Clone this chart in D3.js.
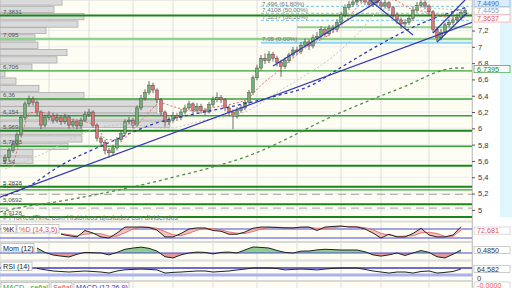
<!DOCTYPE html>
<html>
<head>
<meta charset="utf-8">
<script src="https://d3js.org/d3.v7.min.js"></script>
<style>
body { margin: 0; background: #fff; }
text { font-family: "Liberation Sans", Arial, sans-serif; }
</style>
</head>
<body>
<svg id="chart" width="512" height="288"></svg>
<script>
// daily candles (every other session)
var firstOpen = 5.60;
var closes = [5.64,5.73,5.80,5.92,6.13,6.30,6.36,6.32,6.20,6.04,
  6.13,6.16,6.10,6.13,6.08,6.14,6.04,6.08,6.03,6.10,
  6.17,6.20,6.04,5.88,5.83,5.73,5.70,5.76,5.86,5.94,
  6.08,6.10,6.04,6.25,6.37,6.44,6.53,6.47,6.35,6.20,
  6.08,6.10,6.16,6.13,6.20,6.25,6.30,6.22,6.27,6.22,
  6.20,6.29,6.35,6.38,6.35,6.25,6.20,6.15,6.22,6.25,
  6.32,6.44,6.62,6.74,6.86,6.83,6.91,6.86,6.81,6.76,
  6.83,6.90,6.96,6.94,7.02,7.06,7.01,7.11,7.13,7.21,
  7.16,7.23,7.21,7.30,7.39,7.48,7.52,7.55,7.57,7.60,
  7.55,7.52,7.57,7.54,7.50,7.54,7.48,7.39,7.33,7.28,
  7.30,7.35,7.45,7.51,7.54,7.50,7.43,7.21,7.11,7.18,
  7.27,7.30,7.33,7.36,7.42,7.449];
var highs = [5.68,5.76,5.84,5.95,6.16,6.33,6.40,6.39,6.34,6.22,
  6.17,6.21,6.19,6.18,6.16,6.18,6.16,6.12,6.11,6.13,
  6.21,6.24,6.22,6.06,5.91,5.86,5.76,5.80,5.89,5.98,
  6.11,6.14,6.13,6.28,6.41,6.48,6.58,6.56,6.49,6.37,
  6.22,6.14,6.20,6.19,6.24,6.29,6.34,6.32,6.31,6.30,
  6.25,6.32,6.39,6.44,6.41,6.37,6.28,6.23,6.26,6.29,
  6.35,6.47,6.65,6.78,6.90,6.92,6.95,6.94,6.89,6.84,
  6.87,6.93,7.00,7.00,7.06,7.10,7.09,7.15,7.18,7.25,
  7.24,7.27,7.27,7.34,7.43,7.52,7.56,7.60,7.62,7.64,
  7.63,7.58,7.61,7.60,7.57,7.58,7.56,7.50,7.42,7.36,
  7.34,7.39,7.49,7.55,7.58,7.57,7.52,7.45,7.24,7.22,
  7.30,7.34,7.37,7.40,7.46,7.48];
var lows = [5.57,5.61,5.70,5.78,5.90,6.10,6.27,6.28,6.16,5.99,
  6.01,6.10,6.06,6.07,6.04,6.05,6.00,6.01,5.99,6.00,
  6.08,6.14,6.01,5.84,5.78,5.68,5.64,5.66,5.73,5.83,
  5.92,6.05,6.00,6.02,6.22,6.34,6.41,6.43,6.31,6.16,
  6.02,6.04,6.07,6.09,6.10,6.17,6.22,6.18,6.19,6.18,
  6.16,6.18,6.26,6.32,6.31,6.21,6.15,5.99,6.12,6.19,
  6.22,6.29,6.41,6.59,6.71,6.79,6.80,6.82,6.76,6.63,
  6.73,6.80,6.87,6.90,6.91,6.99,6.96,6.98,7.08,7.10,
  7.12,7.13,7.17,7.18,7.27,7.36,7.45,7.49,7.51,7.54,
  7.51,7.48,7.49,7.50,7.46,7.47,7.44,7.35,7.28,7.22,
  7.24,7.27,7.32,7.42,7.48,7.46,7.38,7.17,7.06,7.08,
  7.15,7.24,7.27,7.30,7.33,7.39];

var monthStarts = [11, 21, 32, 42, 52, 63, 73, 84, 94, 106];
var priceTicks = [5, 5.2, 5.4, 5.6, 5.8, 6, 6.2, 6.4, 6.6, 6.8, 7, 7.2];

// support / resistance levels (strength 1 = zone, 2 = minor, 3 = major)
var levels = [7.3831, 7.095, 6.706, 6.36, 6.154, 5.969, 5.7803, 5.54, 5.2828, 5.2442, 5.0692, 4.9128];
var levelStrength = [3, 1, 2, 2, 2, 3, 2, 3, 3, 2, 3, 3];
var zoneLevel = 7.24, zoneStart = 73;
var grayLevels = [5.19, 5.02];

// Fibonacci retracement
var fibValues = [7.05, 7.3237, 7.4108, 7.496];
var fibPct = ["0,00%", "38,20%", "50,00%", "61,80%"];
var fibStart = 64;

// volume at price
var vpLow = [7.50,7.41,7.32,7.23,7.15,7.06,6.97,6.88,6.79,6.70,6.62,6.53,6.44,6.35,6.26,6.18,6.09,6.00,5.91,5.82,5.73,5.65,5.56];
var vpVol = [62,54,84,78,46,35,38,67,57,32,5,16,39,84,157,157,167,170,82,82,68,33,33];
var vpStep = 0.088;

// moving averages [candle, value]
var maRed = [[2,5.55],[4.25,5.92],[6.25,6.19],[8.75,6.20],[12.5,6.14],[17.5,6.10],[22.5,6.04],[25.5,5.86],[28.75,5.86],[32.5,6.01],[36.25,6.21],[38.75,6.31],[42.5,6.26],[47.5,6.21],[52.5,6.26],[56.75,6.30],[60.5,6.36],[64.25,6.54],[67.5,6.67],[71.25,6.83],[75.5,7.0],[80.5,7.13],[85,7.31],[88.75,7.52],[92.5,7.6],[97.5,7.57],[101.25,7.47],[105,7.43],[108.75,7.38],[112.5,7.35],[115,7.3637]];
var maGray = [[0,5.5],[10,5.7],[20,5.95],[30,6.05],[40,6.0],[50,6.1],[60,6.2],[68,6.44],[75,6.65],[82,6.88],[88,7.15],[94,7.45],[100,7.5],[108,7.47],[115,7.4455]];
var maBlue = [[0,5.17],[6.25,5.30],[13.75,5.54],[26.25,5.83],[38.75,6.08],[48.75,6.19],[58.75,6.29],[68.75,6.41],[76.25,6.52],[83.75,6.74],[93.75,7.03],[103.75,7.28],[115,7.48]];
var maGreen = [[-1.25,4.975],[3,5.02],[15.5,5.12],[41.25,5.39],[61.25,5.67],[83.75,6.19],[98.75,6.49],[113,6.74],[115,6.7395]];

// drawn trend lines
var trendLines = [
  [[-1.25,5.155],[116.75,7.30]],
  [[67,6.764],[93.75,7.574]],
  [[90.5,7.60],[102,7.145]],
  [[107,7.169],[115,7.574]],
  [[108,7.059],[115.5,7.415]]
];

// oscillators, one value every 2 candles
var stochStart = 14;
var stochK = [45,35,27,70,53,27,20,53,93,93,93,90,73,27,27,50,80,87,87,70,65,45,45,60,85,93,93,90,87,87,93,93,70,93,97,100,93,93,80,53,20,45,27,27,50,85,40,27,27,40,95];
var stochD = [50,42,35,45,50,48,33,32,55,80,93,92,85,63,42,35,52,72,85,82,74,60,52,50,63,80,90,92,90,88,89,91,85,85,87,96,97,95,89,75,51,40,31,33,35,54,58,50,31,31,72.681];
var oscStart = 8;
var momVals = [0.8,0.1,-0.32,-0.5,-0.65,-0.2,0.1,0.05,0,-0.3,0.1,0.6,0.8,0.95,0.75,0.3,-0.6,-0.8,-0.3,0,0.15,0.1,-0.15,0.1,0.15,0,0.5,0.97,0.9,0.8,0.4,0.1,0,0.3,0.32,0.5,0.6,0.55,0.48,0.48,0.48,0.2,-0.3,-0.5,-0.3,0,-0.4,0,0.4,0.1,-0.6,-0.8,-0.2,0.485];
var rsiVals = [68,60,53,50,47,50,53,50,47,41,53,60,62,64,62,59,41,45,47,50,53,53,47,50,53,59,64,70,70,70,67,59,62,64,62,59,64,68,70,70,70,62,53,47,41,47,47,41,50,53,41,45,50,64.582];

var svg = d3.select("#chart");
var plotRight = 472;
var comma = function(v) { return String(v).replace(".", ","); };
var locale = d3.formatLocale({decimal: ",", thousands: ".", grouping: [3], currency: ["", ""]});
var tickFmt = locale.format(".1~f");

var N = closes.length;
var x = d3.scaleLinear().domain([0, N - 1]).range([5, 465]);
var y = d3.scaleLinear().domain([4.9, 7.5742]).range([218, 0]);
var yStoch = d3.scaleLinear().domain([0, 100]).range([241, 226]);
var yMom = d3.scaleLinear().domain([-1, 1.6]).range([259.2, 243.08]);
var yRsi = d3.scaleLinear().domain([0, 100]).range([280.25, 262.75]);

var defs = svg.append("defs");
defs.append("clipPath").attr("id", "clipPrice").append("rect").attr("x", 0).attr("y", 0).attr("width", plotRight).attr("height", 221);
defs.append("clipPath").attr("id", "clipUp").append("rect").attr("x", 0).attr("y", 0).attr("width", plotRight).attr("height", yMom(0));
defs.append("clipPath").attr("id", "clipDown").append("rect").attr("x", 0).attr("y", yMom(0)).attr("width", plotRight).attr("height", 40);

// pane backgrounds
var panes = [[0, 221], [222, 241.5], [242.5, 260], [261, 280.5], [281.5, 290]];
svg.selectAll(".pane").data(panes).enter().append("rect")
  .attr("x", 0).attr("y", function(d) { return d[0]; })
  .attr("width", plotRight).attr("height", function(d) { return d[1] - d[0]; })
  .attr("fill", "#fdfdf4").attr("stroke", "#cfcfcf").attr("stroke-width", 0.8);

// grid
svg.selectAll(".hgrid").data(priceTicks).enter().append("line")
  .attr("x1", 0).attr("x2", plotRight)
  .attr("y1", function(d) { return y(d); }).attr("y2", function(d) { return y(d); })
  .attr("stroke", "#eeeeee").attr("stroke-width", 1);
svg.selectAll(".vgrid").data(monthStarts).enter().append("line")
  .attr("x1", function(d) { return x(d); }).attr("x2", function(d) { return x(d); })
  .attr("y1", 0).attr("y2", 288)
  .attr("stroke", "#dedede").attr("stroke-width", 1);

var price = svg.append("g").attr("clip-path", "url(#clipPrice)");

// volume profile
var vpX = d3.scaleLinear().domain([0, d3.max(vpVol)]).range([0, 170]);
price.selectAll(".vp").data(vpLow).enter().append("rect")
  .attr("x", 0)
  .attr("y", function(d) { return y(d + vpStep); })
  .attr("width", function(d, i) { return vpX(vpVol[i]); })
  .attr("height", function(d) { return y(d) - y(d + vpStep) - 0.9; })
  .attr("fill", "#dadada").attr("stroke", "#a3a3a3").attr("stroke-width", 0.7);

// gray dashed levels
price.selectAll(".glev").data(grayLevels).enter().append("line")
  .attr("x1", 0).attr("x2", plotRight)
  .attr("y1", function(d) { return y(d); }).attr("y2", function(d) { return y(d); })
  .attr("stroke", "#b4b4b4").attr("stroke-width", 1.2).attr("stroke-dasharray", "8,5");

// green levels
var levelColor = {1: "#8fd08f", 2: "#34a234", 3: "#1a861a"};
var levelWidth = {1: 2.4, 2: 1.3, 3: 2};
price.selectAll(".lev").data(levels).enter().append("line")
  .attr("x1", 0).attr("x2", plotRight)
  .attr("y1", function(d) { return y(d); }).attr("y2", function(d) { return y(d); })
  .attr("stroke", function(d, i) { return levelColor[levelStrength[i]]; })
  .attr("stroke-width", function(d, i) { return levelWidth[levelStrength[i]]; });
price.append("line")
  .attr("x1", x(zoneStart)).attr("x2", plotRight)
  .attr("y1", y(zoneLevel)).attr("y2", y(zoneLevel))
  .attr("stroke", levelColor[1]).attr("stroke-width", 2.2);

// fibonacci
price.selectAll(".fib").data(fibValues).enter().append("line")
  .attr("x1", x(fibStart)).attr("x2", plotRight)
  .attr("y1", function(d) { return y(d); }).attr("y2", function(d) { return y(d); })
  .attr("stroke", "#8ad4f6")
  .attr("stroke-width", function(d, i) { return i === 0 ? 2 : 1.2; })
  .attr("stroke-dasharray", function(d, i) { return i === 0 ? null : "3,2"; });
price.selectAll(".fibt").data(fibValues).enter().append("text")
  .attr("x", x(fibStart) + 1).attr("y", function(d) { return Math.max(y(d) - 1.5, 5.6); })
  .attr("font-size", 6.2).attr("fill", "#777")
  .text(function(d, i) { return comma(d) + " (" + fibPct[i] + ")"; });

// candles
var candles = closes.map(function(c, i) {
  return {i: i, o: i === 0 ? firstOpen : closes[i - 1], c: c, h: highs[i], l: lows[i]};
});
price.selectAll(".wick").data(candles).enter().append("line")
  .attr("x1", function(d) { return x(d.i); }).attr("x2", function(d) { return x(d.i); })
  .attr("y1", function(d) { return y(d.h); }).attr("y2", function(d) { return y(d.l); })
  .attr("stroke", "#4a4a4a").attr("stroke-width", 0.8);
price.selectAll(".body").data(candles).enter().append("rect")
  .attr("x", function(d) { return x(d.i) - 1.3; }).attr("width", 2.6)
  .attr("y", function(d) { return y(Math.max(d.o, d.c)); })
  .attr("height", function(d) { return Math.max(0.8, Math.abs(y(d.o) - y(d.c))); })
  .attr("fill", function(d) { return d.c >= d.o ? "#6db56d" : "#e07474"; })
  .attr("stroke", "#4a4a4a").attr("stroke-width", 0.5);

// moving averages
var maLine = d3.line().x(function(d) { return x(d[0]); }).y(function(d) { return y(d[1]); }).curve(d3.curveMonotoneX);
price.append("path").attr("d", maLine(maGreen)).attr("fill", "none")
  .attr("stroke", "#4e8f4e").attr("stroke-width", 1.3).attr("stroke-dasharray", "3,3");
price.append("path").attr("d", maLine(maBlue)).attr("fill", "none")
  .attr("stroke", "#3535b8").attr("stroke-width", 1.3).attr("stroke-dasharray", "3,3");
price.append("path").attr("d", maLine(maGray)).attr("fill", "none")
  .attr("stroke", "#c4c4c4").attr("stroke-width", 1).attr("stroke-dasharray", "2,2");
price.append("path").attr("d", maLine(maRed)).attr("fill", "none")
  .attr("stroke", "#e86a6a").attr("stroke-width", 1).attr("stroke-dasharray", "2,2");

// trend lines
price.selectAll(".trend").data(trendLines).enter().append("line")
  .attr("x1", function(d) { return x(d[0][0]); }).attr("y1", function(d) { return y(d[0][1]); })
  .attr("x2", function(d) { return x(d[1][0]); }).attr("y2", function(d) { return y(d[1][1]); })
  .attr("stroke", "#3434b4").attr("stroke-width", 1.2);

// level labels on the left
price.selectAll(".levt").data(levels).enter().append("text")
  .attr("x", 3).attr("y", function(d) { return y(d) - 2; })
  .attr("font-size", 6.2).attr("fill", "#555")
  .text(function(d) { return comma(d); });

price.append("text").attr("x", 2).attr("y", 220)
  .attr("font-size", 7).attr("fill", "#777")
  .text("© ProRealTime.com  Históricos ajustados con dividendos");

// stochastic
var stoch = stochK.map(function(k, j) { return {i: stochStart + 2 * j, k: k, d: stochD[j]}; });
svg.selectAll(".stl").data([80, 20]).enter().append("line")
  .attr("x1", 0).attr("x2", plotRight)
  .attr("y1", function(d) { return yStoch(d); }).attr("y2", function(d) { return yStoch(d); })
  .attr("stroke", "#4b4bd6").attr("stroke-width", 1.1);
svg.append("path").datum(stoch)
  .attr("d", d3.area().x(function(d) { return x(d.i); }).y0(function(d) { return yStoch(d.d); }).y1(function(d) { return yStoch(d.k); }))
  .attr("fill", "#f0a6a6").attr("opacity", 0.7);
svg.append("path").datum(stoch)
  .attr("d", d3.line().x(function(d) { return x(d.i); }).y(function(d) { return yStoch(d.d); }))
  .attr("fill", "none").attr("stroke", "#e06a6a").attr("stroke-width", 0.9);
svg.append("path").datum(stoch)
  .attr("d", d3.line().x(function(d) { return x(d.i); }).y(function(d) { return yStoch(d.k); }))
  .attr("fill", "none").attr("stroke", "#222").attr("stroke-width", 1);

// momentum
var mom = momVals.map(function(v, j) { return {i: oscStart + 2 * j, v: v}; });
var momArea = d3.area().x(function(d) { return x(d.i); }).y0(yMom(0)).y1(function(d) { return yMom(d.v); });
svg.append("path").datum(mom).attr("d", momArea).attr("fill", "#8fcc8f").attr("clip-path", "url(#clipUp)");
svg.append("path").datum(mom).attr("d", momArea).attr("fill", "#e49a9a").attr("clip-path", "url(#clipDown)");
svg.append("line").attr("x1", 0).attr("x2", plotRight).attr("y1", yMom(0)).attr("y2", yMom(0))
  .attr("stroke", "#4b4bd6").attr("stroke-width", 1.1);
svg.append("path").datum(mom)
  .attr("d", d3.line().x(function(d) { return x(d.i); }).y(function(d) { return yMom(d.v); }))
  .attr("fill", "none").attr("stroke", "#222").attr("stroke-width", 1);

// RSI
var rsi = rsiVals.map(function(v, j) { return {i: oscStart + 2 * j, v: v}; });
svg.append("line").attr("x1", 0).attr("x2", plotRight).attr("y1", yRsi(30)).attr("y2", yRsi(30))
  .attr("stroke", "#a9b2ee").attr("stroke-width", 3);
svg.append("line").attr("x1", 0).attr("x2", plotRight).attr("y1", yRsi(70)).attr("y2", yRsi(70))
  .attr("stroke", "#3c3cc8").attr("stroke-width", 1.3);
svg.append("path").datum(rsi)
  .attr("d", d3.line().x(function(d) { return x(d.i); }).y(function(d) { return yRsi(d.v); }))
  .attr("fill", "none").attr("stroke", "#222").attr("stroke-width", 1);

// pane title boxes
var titles = [
  {x: 1, y: 224.5, w: 15, t: "%K", c: "#222"},
  {x: 17, y: 224.5, w: 42, t: "%D (14,3,5)", c: "#e05050"},
  {x: 1, y: 243.5, w: 33, t: "Mom (12)", c: "#222"},
  {x: 1, y: 262, w: 31, t: "RSI (14)", c: "#222"},
  {x: 1, y: 282.5, w: 48, t: "MACD - señal", c: "#3a9a3a"},
  {x: 51, y: 282.5, w: 21, t: "Señal", c: "#e05050"},
  {x: 74, y: 282.5, w: 55, t: "MACD (12,26,9)", c: "#3434b4"}
];
var tg = svg.selectAll(".title").data(titles).enter().append("g");
tg.append("rect").attr("x", function(d) { return d.x; }).attr("y", function(d) { return d.y; })
  .attr("width", function(d) { return d.w; }).attr("height", 8.5)
  .attr("fill", "#fff").attr("stroke", "#b8b8b8").attr("stroke-width", 0.8);
tg.append("text").attr("x", function(d) { return d.x + 2; }).attr("y", function(d) { return d.y + 7; })
  .attr("font-size", 7.2).attr("fill", function(d) { return d.c; })
  .text(function(d) { return d.t; });

// right axis area
svg.append("rect").attr("x", plotRight).attr("y", 0).attr("width", 40).attr("height", 288).attr("fill", "#fff");
svg.append("rect").attr("x", 500).attr("y", 0).attr("width", 12).attr("height", 217).attr("fill", "#def6fc");
svg.append("line").attr("x1", plotRight + 0.5).attr("x2", plotRight + 0.5).attr("y1", 0).attr("y2", 288)
  .attr("stroke", "#c8c8c8");

var axis = svg.append("g").attr("transform", "translate(" + plotRight + ",0)")
  .call(d3.axisRight(y).tickValues(priceTicks).tickFormat(tickFmt).tickSize(3).tickPadding(3));
axis.select(".domain").remove();
axis.selectAll("line").attr("stroke", "#555");
axis.selectAll("text").attr("font-size", 7.6).attr("fill", "#333").attr("font-family", "Liberation Sans, Arial, sans-serif");

// last value labels (price pane labels stacked so they do not collide)
var lastLabels = [
  {v: y(closes[N - 1]) - 7, t: comma(closes[N - 1].toFixed(4)), c: "#3a6cb8", bg: "#dcecff", b: "#8ab4e4"},
  {v: y(maGray[maGray.length - 1][1]) + 0.2, t: comma(maGray[maGray.length - 1][1].toFixed(4)), c: "#999", bg: "#fff", b: "#c8c8c8"},
  {v: y(maRed[maRed.length - 1][1]) + 1.3, t: comma(maRed[maRed.length - 1][1].toFixed(4)), c: "#e05050", bg: "#fff", b: "#f0b0b0"},
  {v: y(maGreen[maGreen.length - 1][1]) + 1, t: comma(maGreen[maGreen.length - 1][1].toFixed(4)), c: "#2e8a2e", bg: "#f4fbf4", b: "#5aa85a"},
  {v: yStoch(stochD[stochD.length - 1]) + 0.5, t: comma(stochD[stochD.length - 1].toFixed(3)), c: "#e05050", bg: "#fff", b: "#d0d0d0"},
  {v: yMom(momVals[momVals.length - 1]), t: comma(momVals[momVals.length - 1].toFixed(4)), c: "#333", bg: "#fff", b: "#c0c0c0"},
  {v: yRsi(rsiVals[rsiVals.length - 1]), t: comma(rsiVals[rsiVals.length - 1].toFixed(3)), c: "#333", bg: "#fff", b: "#c0c0c0"},
  {v: 285.5, t: "-0,0000", c: "#e05050", bg: "#fff", b: "#d0d0d0"}
];
var lg = svg.selectAll(".last").data(lastLabels).enter().append("g");
lg.append("rect").attr("x", plotRight + 2).attr("y", function(d) { return d.v - 3.6; })
  .attr("width", 36).attr("height", 7.2)
  .attr("fill", function(d) { return d.bg; }).attr("stroke", function(d) { return d.b; }).attr("stroke-width", 0.8);
lg.append("text").attr("x", plotRight + 5).attr("y", function(d) { return d.v + 2.6; })
  .attr("font-size", 7.2).attr("fill", function(d) { return d.c; })
  .text(function(d) { return d.t; });
svg.append("text").attr("x", plotRight + 5).attr("y", yRsi(0) + 1).attr("font-size", 7.6).attr("fill", "#333").text("0");
</script>
</body>
</html>
